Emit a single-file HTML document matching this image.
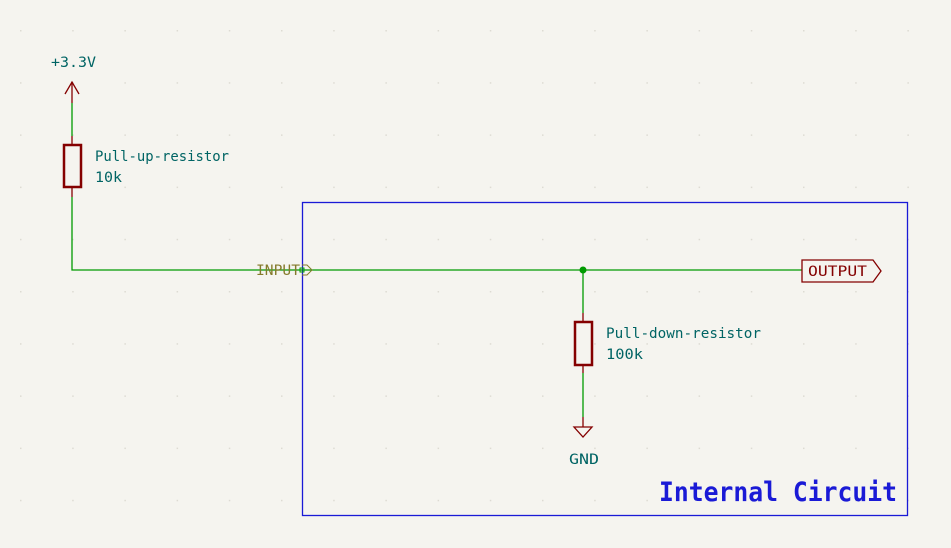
<!DOCTYPE html>
<html><head><meta charset="utf-8"><style>
html,body{margin:0;padding:0;background:#f5f4ef;}
svg{display:block}
text{font-family:"DejaVu Sans Mono","Liberation Mono",monospace;}
</style></head><body>
<svg width="951" height="548" viewBox="0 0 951 548">
<defs><pattern id="g" x="20" y="30" width="52.2" height="52.2" patternUnits="userSpaceOnUse"><rect x="0" y="0" width="1.5" height="1.5" fill="#dddbd3"/></pattern></defs>
<rect width="951" height="548" fill="#f5f4ef"/>
<rect width="951" height="548" fill="url(#g)"/>
<rect x="302.5" y="202.5" width="605" height="313" fill="none" stroke="#1a1ad6" stroke-width="1.3"/>
<text x="659" y="501" font-size="27" font-weight="bold" fill="#1a1ad6" textLength="238" lengthAdjust="spacingAndGlyphs">Internal Circuit</text>
<g stroke="#009a00" stroke-width="1.3" fill="none">
<line x1="72" y1="103" x2="72" y2="136"/>
<polyline points="72,197 72,270 802,270"/>
<line x1="583" y1="270" x2="583" y2="313"/>
<line x1="583" y1="373" x2="583" y2="417"/>
</g>
<circle cx="583" cy="270" r="3.5" fill="#009a00"/>
<g stroke="#840000" stroke-width="1.3" fill="none">
<line x1="72" y1="82" x2="72" y2="103"/>
<polyline points="65,94 72,82 79,94"/>
</g>
<text x="51" y="67" font-size="14" fill="#006464" textLength="45" lengthAdjust="spacingAndGlyphs">+3.3V</text>
<g>
<line x1="72" y1="136" x2="72" y2="145" stroke="#840000" stroke-width="1.3"/>
<rect x="64" y="145" width="17" height="42" fill="none" stroke="#840000" stroke-width="2.5"/>
<line x1="72" y1="187" x2="72" y2="197" stroke="#840000" stroke-width="1.3"/>
</g>
<text x="95" y="161" font-size="14" fill="#006464" textLength="134" lengthAdjust="spacingAndGlyphs">Pull-up-resistor</text>
<text x="95" y="182" font-size="14" fill="#006464" textLength="27" lengthAdjust="spacingAndGlyphs">10k</text>
<g>
<line x1="583" y1="313" x2="583" y2="322" stroke="#840000" stroke-width="1.3"/>
<rect x="575" y="322" width="17" height="43" fill="none" stroke="#840000" stroke-width="2.5"/>
<line x1="583" y1="365" x2="583" y2="373" stroke="#840000" stroke-width="1.3"/>
</g>
<text x="606" y="338" font-size="14" fill="#006464" textLength="155" lengthAdjust="spacingAndGlyphs">Pull-down-resistor</text>
<text x="606" y="359" font-size="14" fill="#006464" textLength="37" lengthAdjust="spacingAndGlyphs">100k</text>
<g stroke="#840000" stroke-width="1.3" fill="none">
<line x1="583" y1="417" x2="583" y2="427"/>
<polygon points="574,427 592,427 583,437"/>
</g>
<text x="569" y="464" font-size="14" fill="#006464" textLength="30" lengthAdjust="spacingAndGlyphs">GND</text>
<g>
<text x="256" y="275" font-size="14" fill="#847a2a" textLength="44" lengthAdjust="spacingAndGlyphs">INPUT</text>
<polyline points="302,265 307,265 312,270 307,275 302,275" fill="none" stroke="#847a2a" stroke-width="1"/>
<rect x="300" y="268" width="4" height="4" fill="none" stroke="#00a000" stroke-width="1"/>
</g>
<g>
<polygon points="802,260 873,260 881,271 873,282 802,282" fill="none" stroke="#840000" stroke-width="1.3"/>
<text x="808" y="276" font-size="14" fill="#840000" textLength="59" lengthAdjust="spacingAndGlyphs">OUTPUT</text>
</g>
</svg>
</body></html>
